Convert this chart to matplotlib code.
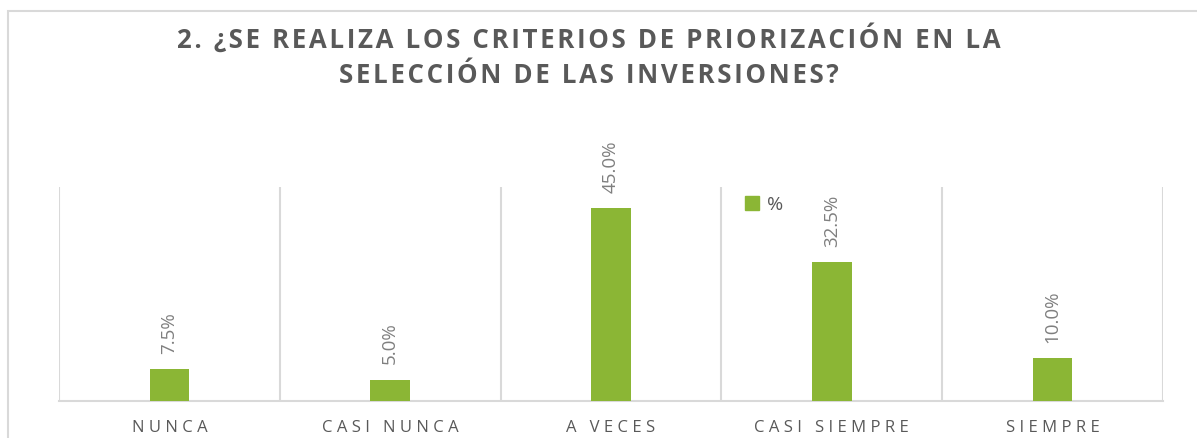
import matplotlib
matplotlib.use("Agg")
import matplotlib.pyplot as plt
from matplotlib.patches import Rectangle
from matplotlib.lines import Line2D

categories = ["NUNCA", "CASI NUNCA", "A VECES", "CASI SIEMPRE", "SIEMPRE"]
values = [7.5, 5.0, 45.0, 32.5, 10.0]
series_name = "%"
title_lines = ["2. ¿SE REALIZA LOS CRITERIOS DE PRIORIZACIÓN EN LA",
               "SELECCIÓN DE LAS INVERSIONES?"]

GREEN = "#8bb635"
DARK = "#595959"
LABEL = "#7f7f7f"
GRID = "#d9d9d9"
FONT = ["Open Sans", "DejaVu Sans"]


def spaced(text, gap="\u200a"):
    return gap.join(text)


W, H = 1197, 438
fig = plt.figure(figsize=(W / 100, H / 100), dpi=100)

# outer chart frame (runs off the right and bottom edges)
fig.add_artist(Rectangle((8 / W, -0.2), 1.5, (H - 11) / H + 0.2,
                         transform=fig.transFigure, fill=False,
                         edgecolor=GRID, linewidth=1.5))

left, right, base, top = 59, 1163, 401, 187
ax = fig.add_axes([left / W, (H - base) / H, (right - left) / W, (base - top) / H])

x = list(range(len(categories)))
ax.bar(x, values, width=0.18, color=GREEN, zorder=3, label=series_name)
ax.set_xlim(-0.5, len(categories) - 0.5)
ax.set_ylim(0, 50)

for b in [i - 0.5 for i in range(len(categories) + 1)]:
    ax.axvline(b, color=GRID, linewidth=1.5, zorder=1)

for s in ["top", "right", "left"]:
    ax.spines[s].set_visible(False)
ax.spines["bottom"].set_color(GRID)
ax.spines["bottom"].set_linewidth(1.5)
ax.set_yticks([])
ax.set_xticks(x)
ax.set_xticklabels([spaced(c, "\u2009\u200a") for c in categories], family=FONT,
                   fontsize=12, color=DARK)
ax.tick_params(axis="x", length=0, pad=14)

for xi, v in zip(x, values):
    ax.annotate(f"{v:.1f}%", (xi, v), xytext=(0, 11), textcoords="offset points",
                rotation=90, ha="center", va="bottom", fontsize=13.5,
                color=LABEL, family=FONT)

handle = Line2D([], [], marker="s", linestyle="none", markersize=10,
                markerfacecolor=GREEN, markeredgecolor=GREEN)
fig.legend([handle], [series_name], loc="upper left",
           bbox_to_anchor=(744 / W, 1 - 196 / H), frameon=False,
           handlelength=0.8, handletextpad=0.4, borderpad=0, borderaxespad=0,
           prop={"family": FONT, "size": 14}, labelcolor=DARK)

for line, yb in zip(title_lines, [48, 83]):
    fig.text(589 / W, 1 - yb / H, spaced(line), ha="center", va="baseline",
             fontsize=18.6, fontweight="bold", color=DARK, family=FONT)

fig.savefig("out.png", dpi=100)
